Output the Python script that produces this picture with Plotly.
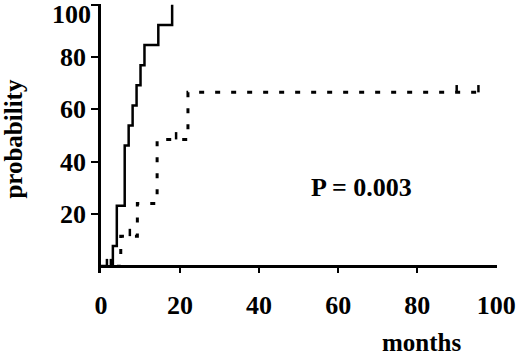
import plotly.graph_objects as go

# Solid curve (Kaplan-Meier style steps): months, probability (%)
solid_t = [0, 3, 4, 6, 7, 8, 9, 10, 11, 14.5, 18]
solid_p = [0, 7.7, 23.1, 46.2, 53.8, 61.5, 69.2, 76.9, 84.6, 92.3, 100]

# Dashed curve steps
dash_t = [0, 5, 9.2, 14.2, 22]
dash_p = [0, 11.5, 24, 48.5, 66.5]
dash_end = 96

# Censor ticks on dashed curve
cens_t = [1.5, 2.5, 7.3, 19, 90, 95.5]
cens_p = [0, 0, 11.5, 48.5, 66.5, 66.5]

x_ticks = [0, 20, 40, 60, 80, 100]
y_ticks = [20, 40, 60, 80, 100]

FONT = "Liberation Serif, Times New Roman, serif"

fig = go.Figure()

fig.add_trace(go.Scatter(
    x=solid_t, y=solid_p, mode="lines", line=dict(shape="hv", color="black", width=2.5),
    showlegend=False, hoverinfo="skip"))

fig.add_trace(go.Scatter(
    x=dash_t + [dash_end], y=dash_p + [dash_p[-1]], mode="lines",
    line=dict(shape="hv", color="black", width=3, dash="5px,11px"),
    showlegend=False, hoverinfo="skip"))

cx, cy = [], []
for t, p in zip(cens_t, cens_p):
    cx += [t, t, None]
    cy += [p, p + 2.8, None]
fig.add_trace(go.Scatter(x=cx, y=cy, mode="lines", line=dict(color="black", width=2.5),
                         showlegend=False, hoverinfo="skip"))

# top label (100) is drawn as an annotation, nudged down so it stays inside the page
ytext = [str(v) if v != y_ticks[-1] else "" for v in y_ticks]

fig.update_layout(
    width=520, height=356,
    margin=dict(l=101, r=23, t=4, b=83),
    paper_bgcolor="white", plot_bgcolor="white",
    font=dict(family=FONT, size=26, color="black", weight="bold"),
    xaxis=dict(range=[0, 100.2], tickvals=x_ticks, ticktext=[str(v) for v in x_ticks],
               showline=False, showgrid=False, zeroline=False,
               ticks="inside", ticklen=7, tickwidth=2, tickcolor="black",
               ticklabelstandoff=14),
    yaxis=dict(range=[-2.6, 100.3], tickvals=y_ticks, ticktext=ytext,
               showline=True, linecolor="black", linewidth=2.5, showgrid=False,
               zeroline=True, zerolinecolor="black", zerolinewidth=2.5,
               ticks="outside", ticklen=7, tickwidth=2, tickcolor="black"),
    annotations=[
        dict(text=str(y_ticks[-1]), xref="paper", yref="y", x=0, y=y_ticks[-1],
             xanchor="right", yanchor="top", xshift=-9, yshift=6, borderpad=0,
             showarrow=False, font=dict(size=26)),
        dict(text="probability", xref="paper", yref="paper", x=-0.222, y=0.50,
             xanchor="center", yanchor="middle",
             textangle=-90, showarrow=False, font=dict(size=25)),
        dict(text="months", xref="paper", yref="paper", x=0.81, y=-0.26,
             xanchor="center", yanchor="middle",
             showarrow=False, font=dict(size=25)),
        dict(text="P = 0.003", xref="x", yref="y", x=66, y=30,
             xanchor="center", yanchor="middle",
             showarrow=False, font=dict(size=26)),
    ],
)

fig.write_html("out.html", config={"displayModeBar": False},
               post_script="document.body.style.margin='0';")
